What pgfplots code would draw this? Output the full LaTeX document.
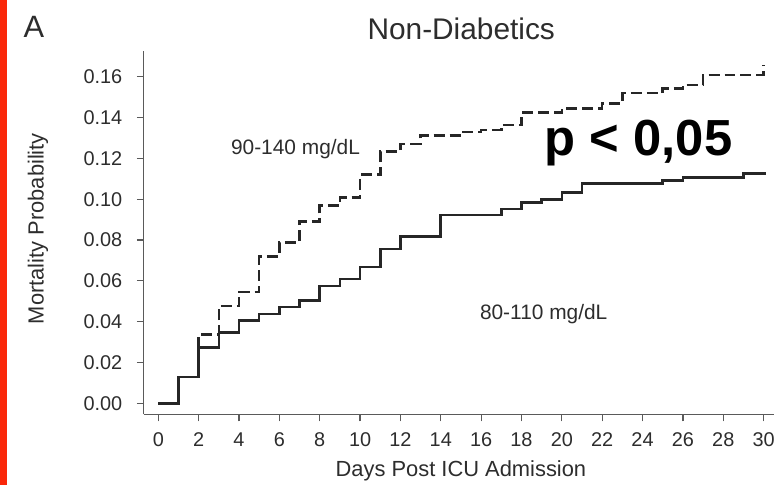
\documentclass[border=0pt]{standalone}
\usepackage{pgfplots}
\pgfplotsset{compat=1.18}
\usepackage{fontspec}
\setmainfont{Liberation Sans}
\definecolor{redbar}{RGB}{250,40,10}
\definecolor{axgray}{RGB}{90,90,90}
\definecolor{txt}{RGB}{45,45,45}
\pgfplotstableread{
x y
0 0
1 0.0129
2 0.0272
3 0.0347
4 0.0405
5 0.0438
6 0.0471
7 0.0504
8 0.0574
9 0.0610
10 0.0667
11 0.0756
12 0.0818
14 0.0923
17 0.0952
18 0.0984
19 0.0998
20 0.1033
21 0.1076
25 0.1092
26 0.1108
29 0.1125
30.1 0.1125
}\lowtab
\pgfplotstableread{
x y
0 0
1 0.0129
2 0.0337
3 0.0476
4 0.0546
5 0.0720
6 0.0789
7 0.0891
8 0.0970
9 0.1010
10 0.1120
11 0.1234
12 0.1271
13 0.1312
15 0.1329
16 0.1340
17 0.1364
18 0.1426
20 0.1446
22 0.1470
23 0.1520
25 0.1544
26 0.1560
27 0.1609
30 0.1658
}\hightab
\begin{document}
\begin{tikzpicture}
\path[fill=white] (0,0) rectangle (778bp,486bp);
\fill[redbar] (0,0) rectangle (7bp,486bp);
\begin{axis}[
  at={(144bp,71bp)}, anchor=south west,
  scale only axis, width=631bp, height=364bp,
  xmin=-0.72, xmax=30.5, ymin=-0.0054, ymax=0.1727,
  axis x line=bottom, axis y line=left,
  axis line style={-, axgray, line width=1.3bp},
  tick align=outside, major tick length=7bp,
  tick style={axgray, line width=1.2bp},
  xtick={0,2,...,30},
  ytick={0,0.02,...,0.161},
  /pgf/number format/assume math mode=true,
  ticklabel style={font=\fontsize{20}{24}\selectfont, text=txt},
  xticklabel style={yshift=-8bp},
  yticklabel style={xshift=-11bp, /pgf/number format/.cd, fixed, fixed zerofill, precision=2},
  xlabel={Days Post ICU Admission},
  ylabel={Mortality Probability},
  label style={font=\fontsize{22}{26}\selectfont, text=txt},
  xlabel style={at={(axis description cs:0.5035,-0.1566)}, anchor=center},
  ylabel style={at={(axis description cs:-0.168,0.511)}, anchor=center},
  clip=false,
]
\addplot[const plot, black!85, line width=2.6bp, dash pattern=on 11bp off 5bp] table {\hightab};
\addplot[const plot, black!85, line width=2.6bp] table {\lowtab};
\node[anchor=base, font=\fontsize{21}{25}\selectfont, text=txt] at (axis cs:6.8,0.1217) {90-140 mg/dL};
\node[anchor=base, font=\fontsize{21}{25}\selectfont, text=txt] at (axis cs:19.1,0.0411) {80-110 mg/dL};
\node[anchor=base, font=\fontsize{51}{60}\selectfont\bfseries] at (axis cs:23.8,0.1213) {p < 0,05};
\end{axis}
\node[font=\fontsize{30}{36}\selectfont, text=txt] at (462bp,457bp) {Non-Diabetics};
\node[font=\fontsize{31}{36}\selectfont, text=txt] at (34bp,459bp) {A};
\end{tikzpicture}
\end{document}
